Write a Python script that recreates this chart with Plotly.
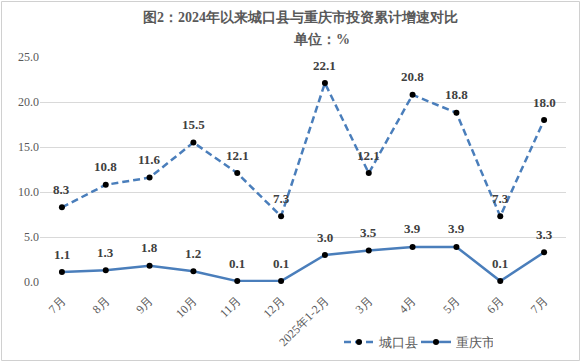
import plotly.graph_objects as go

categories = ["7月", "8月", "9月", "10月", "11月", "12月", "2025年1-2月", "3月", "4月", "5月", "6月", "7月"]
chengkou = [8.3, 10.8, 11.6, 15.5, 12.1, 7.3, 22.1, 12.1, 20.8, 18.8, 7.3, 18.0]
chongqing = [1.1, 1.3, 1.8, 1.2, 0.1, 0.1, 3.0, 3.5, 3.9, 3.9, 0.1, 3.3]

x_idx = list(range(len(categories)))
LINE = "#4a7ebb"
FONT = "Times New Roman, Liberation Serif, serif"

fig = go.Figure()
fig.add_trace(go.Scatter(
    x=x_idx, y=chengkou, name="城口县", mode="lines+markers",
    line=dict(color=LINE, width=2.5, dash="7px,4px"),
    marker=dict(color="black", size=6),
    cliponaxis=False,
))
fig.add_trace(go.Scatter(
    x=x_idx, y=chongqing, name="重庆市", mode="lines+markers",
    line=dict(color=LINE, width=2.5),
    marker=dict(color="black", size=6),
    cliponaxis=False,
))

for series in (chengkou, chongqing):
    for xi, v in zip(x_idx, series):
        fig.add_annotation(
            x=xi, y=v, xref="x", yref="y", text=f"<b>{v:.1f}</b>",
            showarrow=False, yshift=18, yanchor="middle",
            font=dict(family=FONT, size=13, color="#404040"),
        )

W, H = 581, 362
L, R, T, B = 40, 15, 57, 80
pw, ph = W - L - R, H - T - B

fig.update_layout(
    width=W, height=H,
    margin=dict(l=L, r=R, t=T, b=B),
    plot_bgcolor="white", paper_bgcolor="white",
    font=dict(family=FONT, color="#595959", size=12),
    xaxis=dict(
        tickmode="array", tickvals=x_idx, ticktext=categories,
        range=[-0.5, len(categories) - 0.5], tickangle=-45,
        showgrid=False, zeroline=False, showline=False, automargin=False,
        tickfont=dict(family=FONT, size=12, color="#595959"),
        ticks="outside", ticklen=6, tickcolor="rgba(0,0,0,0)",
    ),
    yaxis=dict(
        range=[0, 25], dtick=5, tickformat=".1f", automargin=False,
        showgrid=True, gridcolor="#d9d9d9", gridwidth=1,
        zeroline=False, showline=False,
        tickfont=dict(family=FONT, size=12, color="#595959"),
    ),
    legend=dict(
        orientation="h", xref="container", yref="container",
        x=339 / W, y=(H - 342) / H,
        xanchor="left", yanchor="middle", itemwidth=30, entrywidth=32,
        font=dict(family=FONT, size=13, color="#595959"),
        bgcolor="rgba(0,0,0,0)",
    ),
    showlegend=True,
)

fig.add_annotation(
    text="<b>图2：2024年以来城口县与重庆市投资累计增速对比</b>",
    xref="paper", yref="paper", x=(300 - L) / pw, y=(H - 17 - B) / ph,
    xanchor="center", yanchor="middle", showarrow=False,
    font=dict(family=FONT, size=14, color="#595959"),
)
fig.add_annotation(
    text="<b>单位：%</b>",
    xref="paper", yref="paper", x=(321 - L) / pw, y=(H - 40 - B) / ph,
    xanchor="center", yanchor="middle", showarrow=False,
    font=dict(family=FONT, size=14, color="#595959"),
)
fig.add_shape(
    type="rect", xref="paper", yref="paper",
    x0=(1.5 - L) / pw, x1=(579.5 - L) / pw,
    y0=(H - 360.5 - B) / ph, y1=(H - 1.5 - B) / ph,
    line=dict(color="#d0d0d0", width=1), layer="below",
)

fig.write_html(
    "out.html",
    config={"displayModeBar": False},
    post_script="document.body.style.margin='0';document.body.style.overflow='hidden';",
)
